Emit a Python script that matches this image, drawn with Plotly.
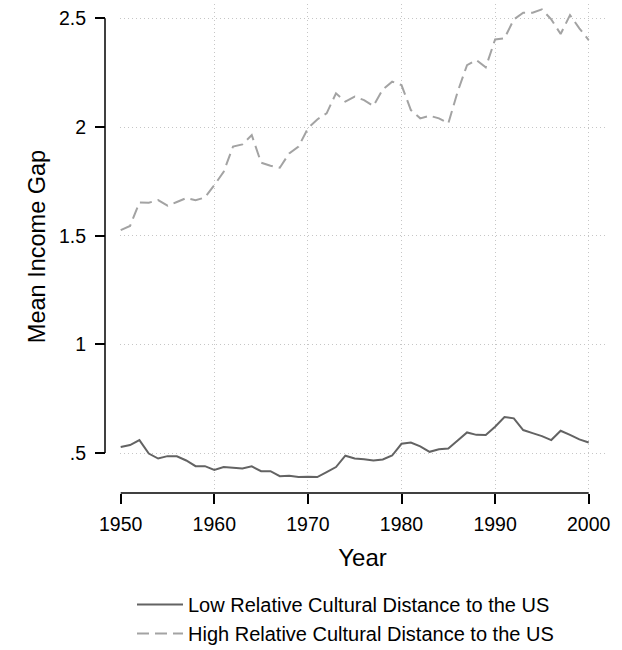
import plotly.graph_objects as go

years = list(range(1950, 2001))

low_distance = [
    0.528, 0.537, 0.560, 0.498, 0.475, 0.486, 0.485, 0.466, 0.440, 0.440,
    0.423, 0.436, 0.433, 0.429, 0.439, 0.417, 0.417, 0.394, 0.396, 0.390,
    0.391, 0.390, 0.413, 0.436, 0.488, 0.475, 0.472, 0.466, 0.471, 0.489,
    0.543, 0.549, 0.531, 0.506, 0.518, 0.521, 0.558, 0.595, 0.584, 0.583,
    0.621, 0.666, 0.660, 0.606, 0.592, 0.578, 0.560, 0.603, 0.584, 0.563,
    0.549,
]

high_distance = [
    1.526, 1.545, 1.653, 1.652, 1.664, 1.638, 1.655, 1.673, 1.663, 1.676,
    1.733, 1.794, 1.910, 1.920, 1.963, 1.836, 1.822, 1.813, 1.879, 1.910,
    1.994, 2.035, 2.063, 2.155, 2.117, 2.140, 2.124, 2.097, 2.173, 2.209,
    2.193, 2.078, 2.040, 2.052, 2.040, 2.017, 2.163, 2.285, 2.308, 2.275,
    2.403, 2.408, 2.495, 2.526, 2.526, 2.541, 2.495, 2.428, 2.515, 2.454,
    2.400,
]

x_ticks = [1950, 1960, 1970, 1980, 1990, 2000]
y_ticks = [0.5, 1, 1.5, 2, 2.5]
y_tick_labels = [".5", "1", "1.5", "2", "2.5"]

series_names = [
    "Low Relative Cultural Distance to the US",
    "High Relative Cultural Distance to the US",
]

FONT = "Liberation Sans, Arial, sans-serif"
GRID = "#c6c6c6"

fig = go.Figure()
fig.add_trace(go.Scatter(
    x=years, y=low_distance, mode="lines", name=series_names[0],
    line=dict(color="#636363", width=2),
))
fig.add_trace(go.Scatter(
    x=years, y=high_distance, mode="lines", name=series_names[1],
    line=dict(color="#a3a3a3", width=2, dash="12px,6px"),
))

# axis lines spanning the tick range only (Stata style)
fig.add_shape(type="line", xref="x", yref="paper",
              x0=x_ticks[0], x1=x_ticks[-1], y0=0, y1=0,
              line=dict(color="black", width=1.5))
fig.add_shape(type="line", xref="paper", yref="y",
              x0=0, x1=0, y0=y_ticks[0], y1=y_ticks[-1],
              line=dict(color="black", width=1.5))

fig.update_layout(
    width=622, height=650,
    margin=dict(l=105, r=17, t=4, b=157, autoexpand=False),
    paper_bgcolor="white", plot_bgcolor="white",
    font=dict(family=FONT, color="black"),
    showlegend=True,
    legend=dict(
        orientation="v", x=0.054, y=-0.188, xanchor="left", yanchor="top",
        font=dict(size=20, family=FONT, color="black"),
        itemwidth=46, bgcolor="rgba(0,0,0,0)", tracegroupgap=0,
    ),
    xaxis=dict(
        domain=[0.03, 1],
        range=[1949.925, 2001.74],
        tickvals=x_ticks, ticktext=[str(t) for t in x_ticks],
        ticks="outside", ticklen=10, tickwidth=1.5, tickcolor="black",
        showline=False, zeroline=False,
        showgrid=True, gridcolor=GRID, griddash="1px,3px", gridwidth=1,
        anchor="free", position=0, automargin=False,
        tickfont=dict(size=19.5, family=FONT),
        ticklabelstandoff=4,
        title=dict(text="Year", font=dict(size=24, family=FONT), standoff=14),
    ),
    yaxis=dict(
        domain=[4 / 489, 1],
        range=[0.3349, 2.566],
        tickvals=y_ticks, ticktext=y_tick_labels,
        ticks="outside", ticklen=10, tickwidth=1.5, tickcolor="black",
        showline=False, zeroline=False,
        showgrid=True, gridcolor=GRID, griddash="1px,3px", gridwidth=1,
        anchor="free", position=0, automargin=False,
        tickfont=dict(size=19.5, family=FONT),
        ticklabelstandoff=5,
        title=dict(text="Mean Income Gap", font=dict(size=23.5, family=FONT), standoff=5),
    ),
)

fig.write_html(
    "out.html",
    config={"displayModeBar": False},
    post_script="document.body.style.margin='0';",
)
